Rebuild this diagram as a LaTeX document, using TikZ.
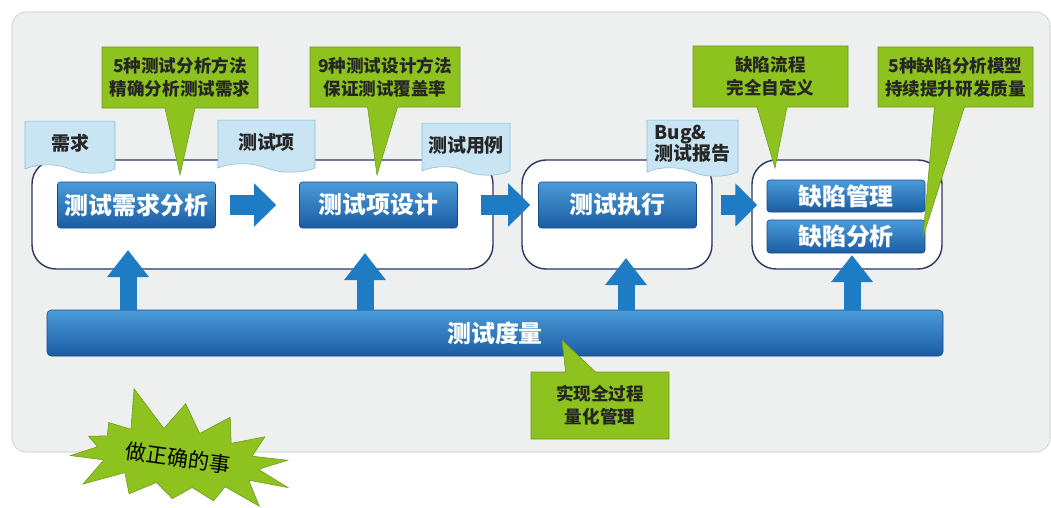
\documentclass[tikz,border=0pt]{standalone}
\usepackage{fontspec}
\setmainfont{Noto Sans CJK SC}
\usepackage{tikz}
\usetikzlibrary{shapes.symbols,shapes.callouts,arrows.meta}

\definecolor{bgfill}{HTML}{EEF0F0}
\definecolor{bgline}{HTML}{C4C8C8}
\definecolor{navy}{HTML}{2B3566}
\definecolor{btop}{HTML}{4A9BD9}
\definecolor{bbot}{HTML}{1B5CA3}
\definecolor{bline}{HTML}{1A4A85}
\definecolor{arrowblue}{HTML}{1E7CC4}
\definecolor{lime}{HTML}{8DC21F}
\definecolor{limeline}{HTML}{6E9A18}
\definecolor{tagfill}{HTML}{C9E5F3}
\definecolor{tagline}{HTML}{86BFDA}

\begin{document}
\begin{tikzpicture}[
  stage/.style={draw=navy,line width=1pt,fill=white,rounded corners=0.6cm,minimum height=2.725cm},
  task/.style={draw=bline,top color=btop,bottom color=bbot,rounded corners=2pt,inner sep=1pt,text=white,font=\fontsize{17}{20}\selectfont\bfseries,minimum width=3.95cm},
  tag/.style={tape,tape bend top=none,tape bend bottom=out and in,tape bend height=6pt,draw=tagline,fill=tagfill,text=black!85,font=\fontsize{13.5}{15}\selectfont\bfseries,minimum height=1.3cm,inner sep=2pt},
  note/.style={rectangle callout,fill=lime,draw=limeline,callout pointer width=0.75cm,text=black!85,font=\fontsize{12.5}{16.5}\selectfont\bfseries,align=center},
  rarrow/.style={arrowblue,line width=0.5cm,-{Triangle[width=1.05cm,length=0.55cm]}},
  uarrow/.style={arrowblue,line width=0.425cm,-{Triangle[width=1cm,length=0.675cm]}}
]
\useasboundingbox (0,0) rectangle (26.275,-12.675);
\draw[bgline,fill=bgfill,rounded corners=0.35cm] (0.3,-0.3) rectangle (26.25,-11.3);

% stages
\node[stage,minimum width=11.525cm] (s1) at (6.5625,-5.3625) {};
\node[stage,minimum width=4.75cm] (s2) at (15.425,-5.3625) {};
\node[stage,minimum width=4.75cm] (s3) at (21.175,-5.3625) {};

% documents
\node[tag,minimum width=2.25cm] (t1) at (1.75,-3.575) {需求};
\node[tag,minimum width=2.425cm] (t2) at (6.6625,-3.55) {测试项};
\node[tag,minimum width=2.2cm] (t3) at (11.65,-3.625) {测试用例};
\node[tag,minimum width=2.275cm,minimum height=1.4cm,align=left] (t4) at (17.3125,-3.6) {Bug\&\\测试报告};

% tasks
\node[task,minimum height=1.15cm] (req) at (3.4125,-5.125) {测试需求分析};
\node[task,minimum height=1.15cm] (item) at (9.4625,-5.125) {测试项设计};
\node[task,minimum height=1.15cm] (exec) at (15.4375,-5.125) {测试执行};
\node[task,minimum height=0.8cm] (mgmt) at (21.15,-4.9) {缺陷管理};
\node[task,minimum height=0.825cm] (ana) at (21.15,-5.9125) {缺陷分析};

\node[task,minimum width=22.4cm,minimum height=1.15cm,rounded corners=3pt] (bar) at (12.375,-8.325) {测试度量};

\draw[rarrow,shorten <=0.35cm,shorten >=0.575cm] (req) -- (item);
\draw[rarrow,shorten <=0.575cm,shorten >=0.2cm] (item) -- (exec);
\draw[rarrow,shorten <=0.6cm,shorten >=-0.15cm] (exec) -- (exec -| s3.west);

\coordinate (u1) at (3.2,-6.25);
\coordinate (u2) at (9.125,-6.325);
\coordinate (u3) at (15.65,-6.45);
\coordinate (u4) at (21.3,-6.375);
\draw[uarrow] (bar.north -| u1) -- (u1);
\draw[uarrow] (bar.north -| u2) -- (u2);
\draw[uarrow] (bar.north -| u3) -- (u3);
\draw[uarrow] (bar.north -| u4) -- (u4);

% notes
\coordinate (p1) at (4.5,-4.375);
\coordinate (p2) at (9.425,-4.375);
\coordinate (p3) at (19.375,-4.2);
\coordinate (p4) at (23.075,-5.925);
\coordinate (p5) at (14.05,-8.5);
\node[note,minimum width=3.9cm,minimum height=1.525cm,callout absolute pointer=(p1)] (n1) at (4.5,-1.9375) {5种测试分析方法\\精确分析测试需求};
\node[note,minimum width=3.75cm,minimum height=1.5cm,callout absolute pointer=(p2)] (n2) at (9.625,-1.925) {9种测试设计方法\\保证测试覆盖率};
\node[note,minimum width=3.875cm,minimum height=1.525cm,callout absolute pointer=(p3)] (n3) at (19.2625,-1.9125) {缺陷流程\\完全自定义};
\node[note,minimum width=3.875cm,minimum height=1.5cm,callout absolute pointer=(p4)] (n4) at (23.8875,-1.925) {5种缺陷分析模型\\持续提升研发质量};
\node[note,minimum width=3.45cm,minimum height=1.675cm,callout absolute pointer=(p5)] (n5) at (15,-10.1375) {实现全过程\\量化管理};

\node[starburst,starburst points=14,starburst point height=1.1cm,random starburst=5,fill=lime,draw=limeline,minimum width=5.4cm,minimum height=3.6cm,rotate=-8,text=black,font=\fontsize{15}{18}\selectfont] (star) at (4.45,-11.45) {做正确的事};

\end{tikzpicture}
\end{document}
